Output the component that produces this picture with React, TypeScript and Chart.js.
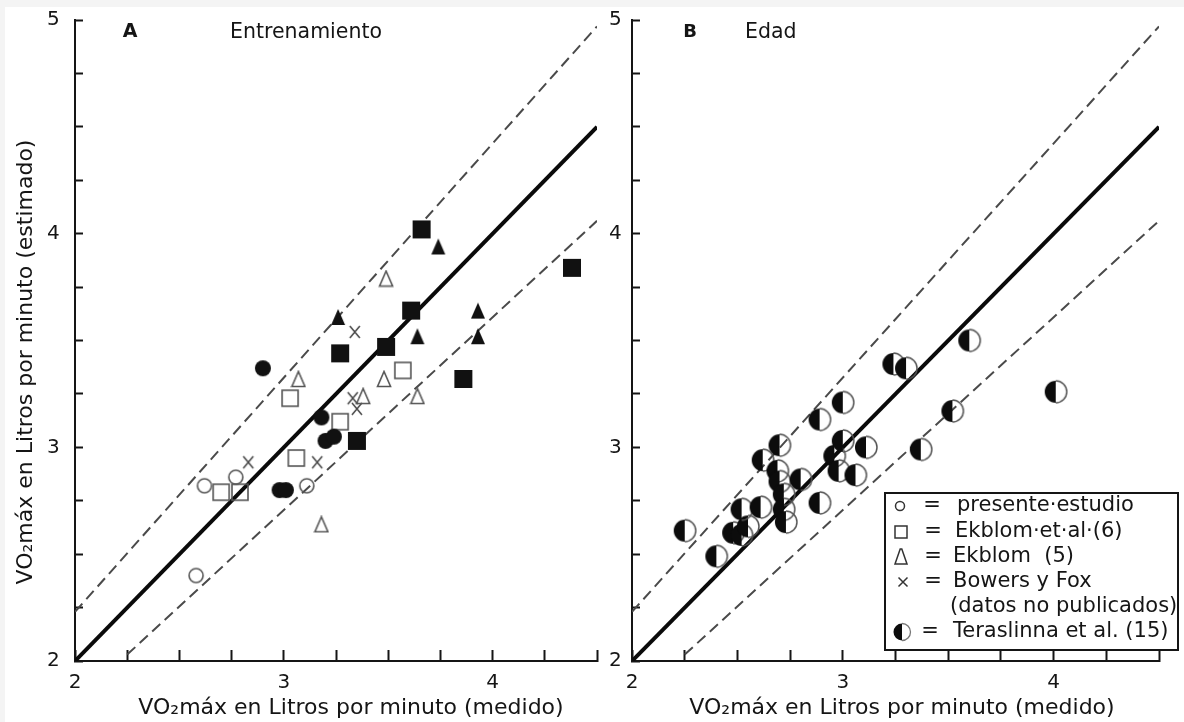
import React, { useEffect, useRef } from 'react';
import { Chart, registerables } from 'chart.js';

Chart.register(...registerables);

type Punto = [number, number];

// ---- Ejes ----
const ticksEtiquetadosX = [2, 3, 4];
const ticksEtiquetadosY = [2, 3, 4, 5];

// ---- Rectas (identidad y ±10 %) ----
const lineaIdentidad: Punto[] = [[2, 2], [4.5, 4.5]];
const lineaSuperior: Punto[] = [[2, 2.23], [4.5, 4.97]];
const lineaInferior: Punto[] = [[2.25, 2.03], [4.5, 4.06]];

// ---- Panel A: Entrenamiento ----
const presenteA: Punto[] = [[2.62, 2.82], [2.77, 2.86], [3.11, 2.82], [2.58, 2.40]];
const presenteEntrenadosA: Punto[] = [[2.90, 3.37], [3.18, 3.14], [3.20, 3.03], [3.24, 3.05], [2.98, 2.80], [3.01, 2.80]];
const ekblomEtAlA: Punto[] = [[3.03, 3.23], [3.27, 3.12], [3.57, 3.36], [3.06, 2.95], [2.70, 2.79], [2.79, 2.79]];
const ekblomEtAlEntrenadosA: Punto[] = [[3.66, 4.02], [3.61, 3.64], [3.49, 3.47], [3.27, 3.44], [3.35, 3.03], [4.38, 3.84], [3.86, 3.32]];
const ekblomA: Punto[] = [[3.49, 3.79], [3.07, 3.32], [3.48, 3.32], [3.38, 3.24], [3.64, 3.24], [3.18, 2.64]];
const ekblomEntrenadosA: Punto[] = [[3.26, 3.61], [3.74, 3.94], [3.64, 3.52], [3.93, 3.64], [3.93, 3.52]];
const bowersFoxA: Punto[] = [[3.34, 3.54], [3.33, 3.23], [3.35, 3.18], [3.16, 2.93], [2.83, 2.93]];

// ---- Panel B: Edad ----
const teraslinnaB: Punto[] = [
  [2.25, 2.61], [2.40, 2.49], [2.48, 2.60], [2.52, 2.59], [2.55, 2.63], [2.52, 2.71],
  [2.61, 2.72], [2.62, 2.94], [2.70, 3.01], [2.69, 2.89], [2.70, 2.84], [2.72, 2.78],
  [2.72, 2.71], [2.73, 2.65], [2.80, 2.85], [2.89, 2.74], [2.89, 3.13], [3.00, 3.21],
  [2.96, 2.96], [3.00, 3.03], [2.98, 2.89], [3.06, 2.87], [3.11, 3.00], [3.24, 3.39],
  [3.30, 3.37], [3.60, 3.50], [3.52, 3.17], [3.37, 2.99], [4.01, 3.26],
];

const FAMILIA = '"DejaVu Sans", Verdana, sans-serif';
const TINTA = '#151515';

function lienzo(w: number, h: number, draw: (g: CanvasRenderingContext2D) => void) {
  const c = document.createElement('canvas');
  c.width = w;
  c.height = h;
  draw(c.getContext('2d') as CanvasRenderingContext2D);
  return c;
}

function marcadores() {
  return {
    circuloAbierto: lienzo(18, 18, (g) => {
      g.beginPath(); g.arc(9, 9, 7, 0, Math.PI * 2);
      g.strokeStyle = '#555'; g.lineWidth = 1.6; g.stroke();
    }),
    circuloLleno: lienzo(18, 18, (g) => {
      g.beginPath(); g.arc(9, 9, 8, 0, Math.PI * 2);
      g.fillStyle = '#111'; g.fill();
    }),
    cuadradoAbierto: lienzo(20, 20, (g) => {
      g.strokeStyle = '#555'; g.lineWidth = 1.6; g.strokeRect(2, 2, 16, 16);
    }),
    cuadradoLleno: lienzo(20, 20, (g) => {
      g.fillStyle = '#111'; g.fillRect(1, 1, 18, 18);
    }),
    trianguloAbierto: lienzo(16, 18, (g) => {
      g.beginPath(); g.moveTo(8, 1.5); g.lineTo(14.5, 16.5); g.lineTo(1.5, 16.5); g.closePath();
      g.strokeStyle = '#555'; g.lineWidth = 1.6; g.stroke();
    }),
    trianguloLleno: lienzo(16, 18, (g) => {
      g.beginPath(); g.moveTo(8, 1); g.lineTo(15, 17); g.lineTo(1, 17); g.closePath();
      g.fillStyle = '#111'; g.fill();
    }),
    cruz: lienzo(14, 16, (g) => {
      g.beginPath(); g.moveTo(2, 2); g.lineTo(12, 14); g.moveTo(12, 2); g.lineTo(2, 14);
      g.strokeStyle = '#444'; g.lineWidth = 1.5; g.stroke();
    }),
    medioCirculo: lienzo(26, 26, (g) => {
      const c = 13, r = 11;
      g.beginPath(); g.arc(c, c, r, Math.PI / 2, Math.PI * 1.5); g.closePath();
      g.fillStyle = '#0c0c0c'; g.fill();
      g.beginPath(); g.arc(c, c, r, -Math.PI / 2, Math.PI / 2);
      g.strokeStyle = '#555'; g.lineWidth = 1.5; g.stroke();
    }),
  };
}

function puntos(arr: Punto[]) {
  return arr.map(([x, y]) => ({ x, y }));
}

function serie(arr: Punto[], estilo: HTMLCanvasElement) {
  return {
    data: puntos(arr),
    pointStyle: estilo,
    pointRadius: 8,
    showLine: false,
  };
}

function recta(arr: Punto[], ancho: number, color: string, trazo: number[]) {
  return {
    data: puntos(arr),
    showLine: true,
    pointRadius: 0,
    borderColor: color,
    borderWidth: ancho,
    borderDash: trazo,
    fill: false,
  };
}

function esEntero(v: number, lista: number[]) {
  return lista.some((t) => Math.abs(t - v) < 1e-6);
}

function opciones(padIzq: number, anchoY: number, padDerecha: number, textos: any) {
  return {
    animation: false,
    responsive: false,
    maintainAspectRatio: false,
    events: [],
    layout: { autoPadding: false, padding: { left: padIzq, right: padDerecha, top: 20, bottom: 0 } },
    plugins: { legend: { display: false }, tooltip: { enabled: false }, textos },
    scales: {
      x: {
        type: 'linear',
        min: 2,
        max: 4.5,
        afterFit: (s: any) => { s.height = 61; },
        border: { display: true, color: TINTA, width: 2 },
        grid: { drawOnChartArea: false, drawTicks: true, tickLength: -11, tickWidth: 2, tickColor: TINTA },
        ticks: {
          stepSize: 0.25,
          autoSkip: false,
          maxRotation: 0,
          padding: 0,
          color: TINTA,
          font: { family: FAMILIA, size: 20, lineHeight: '66px' },
          callback: (v: number) => (esEntero(v, ticksEtiquetadosX) ? String(Math.round(v)) : ''),
        },
      },
      y: {
        type: 'linear',
        min: 2,
        max: 5,
        afterFit: (s: any) => { s.width = anchoY; },
        border: { display: true, color: TINTA, width: 2 },
        grid: { drawOnChartArea: false, drawTicks: true, tickLength: -8, tickWidth: 2, tickColor: TINTA },
        ticks: {
          stepSize: 0.25,
          autoSkip: false,
          padding: 0,
          crossAlign: 'far',
          color: TINTA,
          font: { family: FAMILIA, size: 20 },
          callback: (v: number) => (esEntero(v, ticksEtiquetadosY) ? String(Math.round(v)) : ''),
        },
      },
    },
  };
}

const pluginTextos = {
  id: 'textos',
  afterDraw(chart: any, _args: any, opts: any) {
    const ctx: CanvasRenderingContext2D = chart.ctx;
    ctx.save();
    ctx.fillStyle = TINTA;
    ctx.textBaseline = 'middle';
    for (const t of opts.items || []) {
      ctx.save();
      ctx.font = `${t.bold ? 'bold ' : ''}${t.size}px ${FAMILIA}`;
      ctx.textAlign = t.align || 'left';
      ctx.translate(t.x, t.y);
      if (t.rot) ctx.rotate(t.rot);
      ctx.fillText(t.text, 0, 0);
      ctx.restore();
    }
    if (opts.leyenda) {
      const L = opts.leyenda;
      ctx.strokeStyle = TINTA;
      ctx.lineWidth = 2;
      ctx.strokeRect(L.x, L.y, L.w, L.h);
      ctx.font = `21px ${FAMILIA}`;
      ctx.textAlign = 'left';
      for (const f of L.filas) {
        if (f.eq) {
          ctx.textAlign = 'center';
          ctx.fillText('=', f.eq, f.y);
          ctx.textAlign = 'left';
        }
        ctx.fillText(f.text, f.tx, f.y);
        const sx = f.sx, sy = f.y;
        ctx.strokeStyle = '#333';
        ctx.lineWidth = 1.5;
        if (f.sym === 'circulo') {
          ctx.beginPath(); ctx.arc(sx, sy, 4.5, 0, Math.PI * 2); ctx.stroke();
        } else if (f.sym === 'cuadrado') {
          ctx.strokeRect(sx - 6, sy - 6, 12, 12);
        } else if (f.sym === 'triangulo') {
          ctx.beginPath(); ctx.moveTo(sx - 0.8, sy - 8); ctx.lineTo(sx + 0.8, sy - 8);
          ctx.lineTo(sx + 6, sy + 7); ctx.lineTo(sx - 6, sy + 7); ctx.closePath(); ctx.stroke();
        } else if (f.sym === 'cruz') {
          ctx.beginPath(); ctx.moveTo(sx - 4.5, sy - 4.5); ctx.lineTo(sx + 4.5, sy + 4.5);
          ctx.moveTo(sx + 4.5, sy - 4.5); ctx.lineTo(sx - 4.5, sy + 4.5); ctx.stroke();
        } else if (f.sym === 'medio') {
          ctx.beginPath(); ctx.arc(sx, sy, 8.5, Math.PI / 2, Math.PI * 1.5); ctx.closePath();
          ctx.fillStyle = '#0c0c0c'; ctx.fill(); ctx.fillStyle = TINTA;
          ctx.beginPath(); ctx.arc(sx, sy, 8.5, -Math.PI / 2, Math.PI / 2);
          ctx.strokeStyle = '#777'; ctx.lineWidth = 1.3; ctx.stroke();
        }
      }
    }
    ctx.restore();
  },
};

const TITULO_X = 'VO₂máx en Litros por minuto (medido)';
const TITULO_Y = 'VO₂máx en Litros por minuto (estimado)';

export default function App() {
  const refA = useRef<HTMLCanvasElement | null>(null);
  const refB = useRef<HTMLCanvasElement | null>(null);

  useEffect(() => {
    const m = marcadores();
    const lineas = () => [
      recta(lineaIdentidad, 4, '#0a0a0a', []),
      recta(lineaSuperior, 2, '#4a4a4a', [11, 6]),
      recta(lineaInferior, 2, '#4a4a4a', [11, 6]),
    ];

    const chartA = new Chart(refA.current as HTMLCanvasElement, {
      type: 'scatter',
      data: {
        datasets: [
          serie(presenteA, m.circuloAbierto),
          serie(presenteEntrenadosA, m.circuloLleno),
          serie(ekblomEtAlA, m.cuadradoAbierto),
          serie(ekblomEtAlEntrenadosA, m.cuadradoLleno),
          serie(ekblomA, m.trianguloAbierto),
          serie(ekblomEntrenadosA, m.trianguloLleno),
          serie(bowersFoxA, m.cruz),
          ...lineas(),
        ] as any,
      },
      options: opciones(47, 28, 3, {
        items: [
          { text: 'A', x: 130, y: 32, size: 19, bold: true, align: 'center' },
          { text: 'Entrenamiento', x: 230, y: 33, size: 20.5 },
          { text: TITULO_X, x: 351, y: 708, size: 22, align: 'center' },
          { text: TITULO_Y, x: 26, y: 362, size: 22, align: 'center', rot: -Math.PI / 2 },
        ],
      }) as any,
      plugins: [pluginTextos],
    });

    const chartB = new Chart(refB.current as HTMLCanvasElement, {
      type: 'scatter',
      data: {
        datasets: [
          serie(teraslinnaB, m.medioCirculo),
          ...lineas(),
        ] as any,
      },
      options: opciones(9, 23, 25, {
        items: [
          { text: 'B', x: 90, y: 32, size: 18, bold: true, align: 'center' },
          { text: 'Edad', x: 145, y: 33, size: 20.5 },
          { text: TITULO_X, x: 302, y: 708, size: 22, align: 'center' },
        ],
        leyenda: {
          x: 285, y: 493, w: 293, h: 157,
          filas: [
            { sym: 'circulo', sx: 300, y: 506, eq: 332, tx: 357, text: 'presente·estudio' },
            { sym: 'cuadrado', sx: 301, y: 532, eq: 333, tx: 355, text: 'Ekblom·et·al·(6)' },
            { sym: 'triangulo', sx: 301, y: 557, eq: 333, tx: 353, text: 'Ekblom  (5)' },
            { sym: 'cruz', sx: 303, y: 582, eq: 333, tx: 353, text: 'Bowers y Fox' },
            { sym: '', sx: 0, y: 607, eq: 0, tx: 350, text: '(datos no publicados)' },
            { sym: 'medio', sx: 302, y: 632, eq: 330, tx: 353, text: 'Teraslinna et al. (15)' },
          ],
        },
      }) as any,
      plugins: [pluginTextos],
    });

    return () => {
      chartA.destroy();
      chartB.destroy();
    };
  }, []);

  return (
    <div style={{ position: 'fixed', left: 0, top: 0, width: 1184, height: 722, background: '#f4f4f4', overflow: 'hidden' }}>
      <div style={{ position: 'absolute', left: 5, top: 7, right: 0, bottom: 0, background: '#ffffff' }} />
      <canvas ref={refA} width={600} height={722} style={{ position: 'absolute', left: 0, top: 0, width: 600, height: 722 }} />
      <canvas ref={refB} width={584} height={722} style={{ position: 'absolute', left: 600, top: 0, width: 584, height: 722 }} />
    </div>
  );
}
